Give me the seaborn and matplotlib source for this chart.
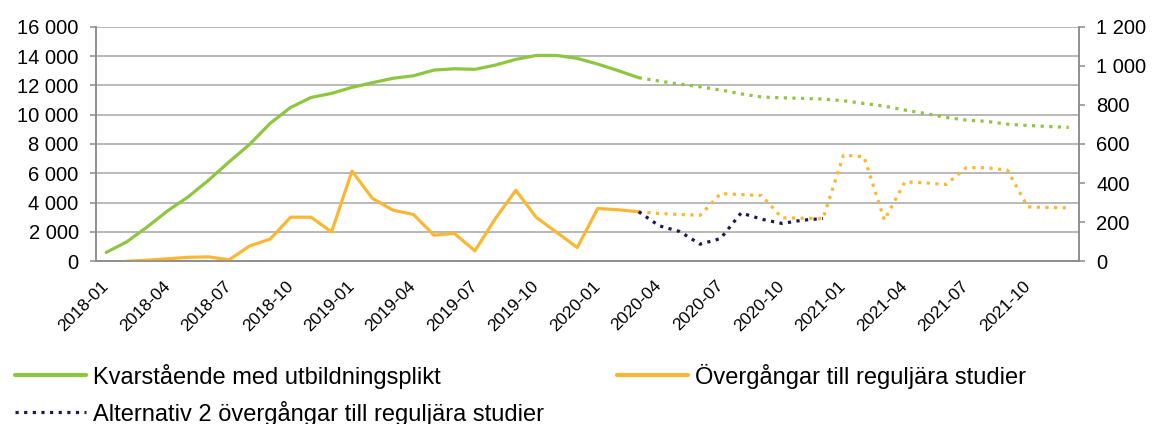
import numpy as np
import pandas as pd
import matplotlib
matplotlib.use("Agg")
import matplotlib.pyplot as plt
from matplotlib.lines import Line2D
from matplotlib.ticker import FuncFormatter
import seaborn as sns

months = pd.period_range("2018-01", "2021-12", freq="M").strftime("%Y-%m").tolist()

# Kvarstående med utbildningsplikt (vänster axel)
green_actual = [600, 1320, 2340, 3440, 4390, 5530, 6780, 7970, 9400, 10490, 11170, 11450,
                11860, 12180, 12480, 12650, 13040, 13130, 13090, 13380, 13770, 14040, 14040,
                13840, 13450, 13000, 12520]          # 2018-01 .. 2020-03
green_forecast = [12520, 12290, 12080, 11900, 11680, 11420, 11200, 11150, 11110, 11060,
                  10950, 10760, 10580, 10310, 10080, 9810, 9630, 9540, 9350, 9260, 9190, 9130]  # 2020-03 .. 2021-12

# Övergångar till reguljära studier (höger axel)
orange_actual = [0, 5, 12, 20, 22, 7, 78, 113, 225, 225, 150, 461, 321, 261, 239, 133, 142,
                 53, 218, 363, 224, 147, 70, 270, 263, 253]      # 2018-02 .. 2020-03
orange_forecast = [253, 244, 239, 235, 346, 341, 336, 222, 220, 218, 543, 534, 210, 406,
                   401, 392, 479, 478, 466, 278, 275, 273]     # 2020-03 .. 2021-12

# Alternativ 2 (höger axel)
navy_alt2 = [253, 181, 152, 87, 116, 247, 215, 193, 210, 218]   # 2020-03 .. 2020-12

labels = ["Kvarstående med utbildningsplikt",
          "Övergångar till reguljära studier",
          "Alternativ 2 övergångar till reguljära studier"]

c_green = "#8dc63f"
c_orange = "#fbb732"
c_navy = "#1c1a50"
c_grey = "#8c8c8c"


def seg(values, start):
    return pd.DataFrame({"pos": np.arange(start, start + len(values)), "val": values})


sns.set_style("white")
plt.rcParams["font.family"] = ["Liberation Sans", "DejaVu Sans"]
plt.rcParams["text.color"] = "black"
plt.rcParams["xtick.labelcolor"] = "black"
plt.rcParams["ytick.labelcolor"] = "black"

fig, ax = plt.subplots(figsize=(11.54, 4.24), dpi=100)
fig.subplots_adjust(left=0.0832, right=0.935, top=0.937, bottom=0.384)
ax2 = ax.twinx()

lw = 2.3
dots = (0, (1, 1.7))

sns.lineplot(data=seg(green_actual, 0), x="pos", y="val", ax=ax, color=c_green, linewidth=lw)
sns.lineplot(data=seg(green_forecast, 26), x="pos", y="val", ax=ax, color=c_green,
             linewidth=lw, linestyle=dots)
sns.lineplot(data=seg(orange_actual, 1), x="pos", y="val", ax=ax2, color=c_orange, linewidth=lw)
sns.lineplot(data=seg(orange_forecast, 26), x="pos", y="val", ax=ax2, color=c_orange,
             linewidth=lw, linestyle=dots)
sns.lineplot(data=seg(navy_alt2, 26), x="pos", y="val", ax=ax2, color=c_navy,
             linewidth=lw, linestyle=dots)

ax.set_ylim(0, 16000)
ax2.set_ylim(0, 1200)
ax.set_yticks(np.arange(0, 16001, 2000))
ax2.set_yticks(np.arange(0, 1201, 200))
fmt = FuncFormatter(lambda v, p: f"{v:,.0f}".replace(",", " "))
ax.yaxis.set_major_formatter(fmt)
ax2.yaxis.set_major_formatter(fmt)
ax.set_xlim(-0.5, len(months) - 0.5)
ax.set_xlabel("")
ax.set_ylabel("")
ax2.set_ylabel("")

ax.grid(axis="y", color="#a6a6a6", linewidth=1.1)
ax.grid(axis="x", visible=False)
ax2.grid(False)

for a in (ax, ax2):
    for s in a.spines.values():
        s.set_color(c_grey)
        s.set_linewidth(1.1)
    a.spines["top"].set_visible(False)

major = np.arange(0, len(months), 3)
ax.set_xticks(major)
ax.set_xticklabels([months[i] for i in major], rotation=45, ha="right", va="center",
                   rotation_mode="anchor")
ax.set_xticks(np.arange(-0.5, len(months), 1), minor=True)
ax.tick_params(axis="x", which="major", length=0, pad=16, labelsize=12.5)
ax.tick_params(axis="x", which="minor", length=4.5, width=1.1, color=c_grey, direction="out")
ax.tick_params(axis="y", length=4.5, width=1.1, color=c_grey, labelsize=14.5, pad=8, left=True)
ax2.tick_params(axis="y", length=4.5, width=1.1, color=c_grey, labelsize=14.5, pad=8, right=True)

handles = [Line2D([], [], color=c_green, linewidth=3),
           Line2D([], [], color=c_navy, linewidth=lw, linestyle=dots),
           Line2D([], [], color=c_orange, linewidth=3)]
fig.legend(handles, [labels[0], labels[2], labels[1]], ncol=2, loc="upper left",
           bbox_to_anchor=(0.003, 0.17), frameon=False, fontsize=17, borderpad=0,
           handlelength=3.0, handletextpad=0.3, columnspacing=3.1, labelspacing=0.5)

fig.savefig("out.png", dpi=100)
